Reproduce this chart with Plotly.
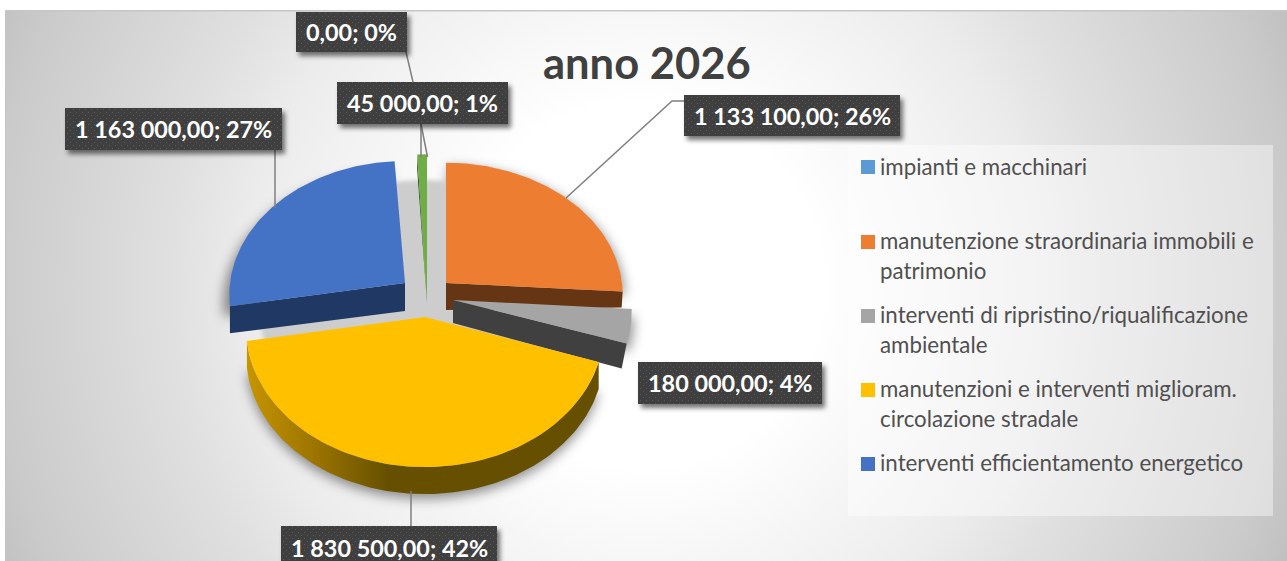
import base64
import math
import numpy as np
import plotly.graph_objects as go

# ---- data ----
title = "anno 2026"
categories = ["impianti e macchinari", "manutenzione straordinaria immobili e patrimonio",
              "interventi di ripristino/riqualificazione ambientale",
              "manutenzioni e interventi miglioram. circolazione stradale",
              "interventi efficientamento energetico", ""]
values = [0.0, 1133100.0, 180000.0, 1830500.0, 1163000.0, 45000.0]
colors = ["#5B9BD5", "#ED7D31", "#A5A5A5", "#FFC000", "#4472C4", "#70AD47"]
legend_lines = [["impianti e macchinari"],
                ["manutenzione straordinaria immobili e", "patrimonio"],
                ["interventi di ripristino/riqualificazione", "ambientale"],
                ["manutenzioni e interventi miglioram.", "circolazione stradale"],
                ["interventi efficientamento energetico"]]

# ---- styling / layout constants (pixels of the 1287x561 canvas) ----
W, H = 1287, 561
FONT = "Lato"
FONT_LABEL = 23.4
FONT_LEG = 22.3
TILT, PERSP = 0.745, 0.09
# index: apex x, apex y, radius, y-stretch, side colour, side depth at apex, side depth at rim, side at start?
geom = {
    1: dict(cx=446, cy=283, r=176, ky=1.0, side="#663513", da=27, dr=16, at_start=False),
    2: dict(cx=453, cy=300, r=178, ky=1.0, side="#404040", da=23, dr=25, at_start=False),
    3: dict(cx=425, cy=317, r=178, ky=1.03, side=None, da=27, dr=27, at_start=False),
    4: dict(cx=405, cy=283, r=175, ky=1.02, side="#203864", da=28, dr=27, at_start=True),
    5: dict(cx=427, cy=303, r=165, ky=1.32, side="#2f4a1e", da=0, dr=15, at_start=True),
}
boxes = {0: (296, 12, 407, 52), 1: (684, 95, 900, 136), 2: (638, 362, 822, 404),
         3: (281, 526, 497, 570), 4: (65, 108, 282, 150), 5: (337, 82, 508, 124)}
text_cy = {3: 547.5}
leaders = [([406, 413], [52, 82]), ([421, 421], [124, 157]), ([421, 427.5], [124, 157]),
           ([275, 275], [150, 208]), ([566, 672, 684], [198, 101, 101]), ([411, 411], [491, 526])]
legend_y = [[166], [240, 270], [314, 344], [388, 418], [462]]
legend_sq = [160, 235, 309, 383, 457]

# ---- geometry derived from the values ----
total = sum(values)
edges = np.cumsum([0.0] + values) / total * 2 * math.pi


def project(g, theta):
    u, v = np.sin(theta), np.cos(theta)
    p = 1 / (1 + PERSP * v)
    return g["cx"] + g["r"] * u * p, g["cy"] - g["r"] * v * TILT * g["ky"] * p


def sector(i):
    g = geom[i]
    t = np.linspace(edges[i], edges[i + 1], 90)
    x, y = project(g, t)
    return [g["cx"], *x, g["cx"]], [g["cy"], *y, g["cy"]]


def to_svg_pts(xs, ys):
    return " ".join(f"{a:.1f},{b:.1f}" for a, b in zip(xs, ys))


def svg_uri(body):
    svg = f'<svg xmlns="http://www.w3.org/2000/svg" width="{W}" height="{H}" viewBox="0 0 {W} {H}">{body}</svg>'
    return "data:image/svg+xml;base64," + base64.b64encode(svg.encode()).decode()


# backdrop: radial gradient, border, blurred shadows
shadow = ""
for i, (dx, dy) in {1: (2, 4), 2: (2, 8), 3: (0, 32), 4: (-6, 10)}.items():
    xs, ys = sector(i)
    shadow += f'<polygon points="{to_svg_pts(np.array(xs) + dx, np.array(ys) + dy)}" fill="#000" fill-opacity="0.42"/>'
gt = np.linspace(0, 2 * math.pi, 120)
gapx, gapy = 425 + 165 * np.sin(gt), 312 + 132 * np.cos(gt)
back = f'''<defs>
<radialGradient id="bg" gradientUnits="userSpaceOnUse" cx="640" cy="285" r="725">
<stop offset="0" stop-color="#ffffff"/><stop offset="0.25" stop-color="#ffffff"/>
<stop offset="0.54" stop-color="#ececec"/><stop offset="0.65" stop-color="#e0e0e0"/>
<stop offset="0.9" stop-color="#cacaca"/><stop offset="1" stop-color="#bcbcbc"/></radialGradient>
<filter id="b" x="-20%" y="-20%" width="140%" height="140%"><feGaussianBlur stdDeviation="6"/></filter>
<filter id="b2" x="-20%" y="-20%" width="140%" height="140%"><feGaussianBlur stdDeviation="2"/></filter>
</defs>
<rect x="0" y="0" width="{W}" height="{H}" fill="#ffffff"/>
<rect x="5" y="10" width="{W}" height="{H}" fill="url(#bg)"/>
<rect x="5" y="10" width="{W}" height="1.5" fill="#c6c6c6"/>
<rect x="5" y="10" width="1.2" height="{H}" fill="#c6c6c6"/>
<g filter="url(#b)">{shadow}</g>
<polygon filter="url(#b2)" points="{to_svg_pts(gapx, gapy)}" fill="#cdcdcd"/>
'''

# label boxes: dark dotted plates with soft shadow
plates = ""
for x0, y0, x1, y1 in boxes.values():
    plates += f'<rect filter="url(#s)" x="{x0 + 3}" y="{y0 + 4}" width="{x1 - x0}" height="{y1 - y0}" fill="#000" fill-opacity="0.55"/>'
for x0, y0, x1, y1 in boxes.values():
    plates += f'<rect x="{x0}" y="{y0}" width="{x1 - x0}" height="{y1 - y0}" fill="url(#dots)"/>'
front = f'''<defs>
<filter id="s" x="-20%" y="-40%" width="140%" height="180%"><feGaussianBlur stdDeviation="2.5"/></filter>
<pattern id="dots" width="6" height="6" patternUnits="userSpaceOnUse">
<rect width="6" height="6" fill="#3f3f3f"/><rect x="1" y="1" width="1" height="1" fill="#5a5a5a"/>
<rect x="4" y="4" width="1" height="1" fill="#5a5a5a"/></pattern></defs>{plates}'''

fig = go.Figure()


def fill(xs, ys, color=None, gradient=None):
    kw = dict(fillgradient=gradient) if gradient else dict(fillcolor=color)
    fig.add_trace(go.Scatter(x=list(xs), y=list(ys), mode="lines", fill="toself",
                             line=dict(width=0), hoverinfo="skip", showlegend=False, **kw))


for i in (5, 4, 1, 2, 3):
    g = geom[i]
    if i == 3:
        t = np.linspace(edges[i], edges[i + 1], 120)
        x, y = project(g, t)
        fill([*x, *x[::-1]], [*y, *(y[::-1] + g["da"])],
             gradient=dict(type="horizontal",
                           colorscale=[[0, "#c69500"], [0.2, "#9a7300"], [0.4, "#665000"], [1, "#665000"]]))
    else:
        ang = edges[i] if g["at_start"] else edges[i + 1]
        ex, ey = project(g, np.array([ang]))
        fill([g["cx"], ex[0], ex[0] - (1 if i == 1 else 0) - (5 if i == 2 else 0), g["cx"], g["cx"]],
             [g["cy"], ey[0], ey[0] + g["dr"], g["cy"] + g["da"], g["cy"]], color=g["side"])
    xs, ys = sector(i)
    fill(xs, ys, color=colors[i])

for lx, ly in leaders:
    fig.add_trace(go.Scatter(x=lx, y=ly, mode="lines", line=dict(color="#7f7f7f", width=1.5),
                             hoverinfo="skip", showlegend=False))


def fmt(v):
    return f"{v:,.2f}".replace(",", " ").replace(".", ",") + f"; {round(v / total * 100)}%"


ann = [dict(x=647, y=62, text=f"<b>{title}</b>", showarrow=False, xref="x", yref="y",
            font=dict(family=FONT, size=43.5, color="#404040"))]
for i, v in enumerate(values):
    x0, y0, x1, y1 = boxes[i]
    ann.append(dict(x=(x0 + x1) / 2, y=text_cy.get(i, (y0 + y1) / 2), text=f"<b>{fmt(v)}</b>", showarrow=False,
                    xref="x", yref="y", font=dict(family=FONT, size=FONT_LABEL, color="#ffffff")))

for lines, ys in zip(legend_lines, legend_y):
    for line, y in zip(lines, ys):
        ann.append(dict(x=878, y=y, text=line, showarrow=False, xanchor="left", xref="x", yref="y",
                        font=dict(family=FONT, size=FONT_LEG, color="#505050")))

shapes = [dict(type="rect", x0=848, x1=1273, y0=145, y1=516, layer="below", line=dict(width=0),
               fillcolor="rgba(255,255,255,0.42)")]
for c, y in zip(colors, legend_sq):
    shapes.append(dict(type="rect", x0=861, x1=875, y0=y, y1=y + 14, layer="below",
                       line=dict(width=0), fillcolor=c))

images = [dict(source=svg_uri(back), xref="paper", yref="paper", x=0, y=1, sizex=1, sizey=1,
               sizing="stretch", layer="below", xanchor="left", yanchor="top"),
          dict(source=svg_uri(front), xref="paper", yref="paper", x=0, y=1, sizex=1, sizey=1,
               sizing="stretch", layer="above", xanchor="left", yanchor="top")]

fig.update_layout(width=W, height=H, margin=dict(l=0, r=0, t=0, b=0), showlegend=False,
                  paper_bgcolor="#ffffff", plot_bgcolor="rgba(0,0,0,0)",
                  xaxis=dict(range=[0, W], visible=False, fixedrange=True),
                  yaxis=dict(range=[H, 0], visible=False, fixedrange=True),
                  annotations=ann, shapes=shapes, images=images)
fig.write_html("out.html", config=dict(displayModeBar=False),
               post_script="document.body.style.margin='0';document.documentElement.style.overflow='hidden';")
